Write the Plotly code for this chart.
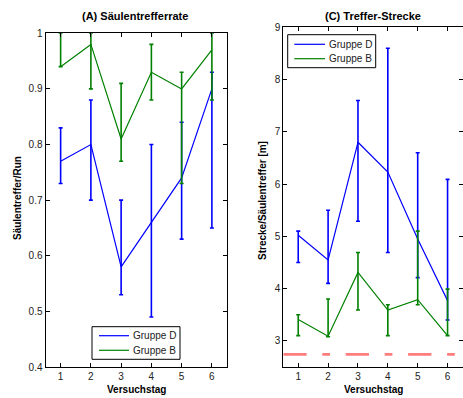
import plotly.graph_objects as go

W, H = 463, 398

days = [1, 2, 3, 4, 5, 6]

# (A) hit rate per run
rate_d = [0.77, 0.80, 0.58, 0.66, 0.74, 0.90]
rate_d_hi = [0.83, 0.88, 0.70, 0.80, 0.84, 0.93]
rate_d_lo = [0.73, 0.70, 0.53, 0.49, 0.63, 0.65]
rate_b = [0.94, 0.98, 0.81, 0.93, 0.90, 0.97]
rate_b_hi = [1.00, 1.00, 0.91, 0.98, 0.93, 1.00]
rate_b_lo = [0.94, 0.90, 0.77, 0.88, 0.73, 0.88]

# (C) distance per hit
dist_d = [5.02, 4.55, 6.80, 6.23, 4.95, 3.77]
dist_d_hi = [5.10, 5.50, 7.60, 8.60, 6.60, 6.09]
dist_d_lo = [4.50, 4.10, 5.29, 4.69, 4.21, 3.40]
dist_b = [3.41, 3.09, 4.31, 3.59, 3.79, 3.10]
dist_b_hi = [3.50, 3.80, 4.69, 3.69, 5.10, 3.99]
dist_b_lo = [3.10, 3.08, 3.59, 3.10, 3.69, 3.10]
reference_dist = 2.74

group_names = ["Gruppe D", "Gruppe B"]

BLUE = "rgb(0,0,255)"
GREEN = "rgb(0,128,0)"
FONT = "Liberation Sans, Arial, sans-serif"


def px_x(p):
    return p / W


def px_y(p):
    return 1 - p / H


def series(x, y, hi, lo, name, color, xa, ya):
    return go.Scatter(
        x=x, y=y, name=name, mode="lines",
        line=dict(color=color, width=1.2),
        error_y=dict(
            type="data", symmetric=False,
            array=[h - v for h, v in zip(hi, y)],
            arrayminus=[v - l for v, l in zip(y, lo)],
            color=color, thickness=1.6, width=2,
        ),
        xaxis=xa, yaxis=ya, showlegend=False,
    )


fig = go.Figure()
fig.add_trace(series(days, rate_d, rate_d_hi, rate_d_lo, group_names[0], BLUE, "x", "y"))
fig.add_trace(series(days, rate_b, rate_b_hi, rate_b_lo, group_names[1], GREEN, "x", "y"))
fig.add_trace(series(days, dist_d, dist_d_hi, dist_d_lo, group_names[0], BLUE, "x2", "y2"))
fig.add_trace(series(days, dist_b, dist_b_hi, dist_b_lo, group_names[1], GREEN, "x2", "y2"))
fig.add_trace(go.Scatter(
    x=[0.5, 6.5], y=[reference_dist, reference_dist], mode="lines",
    line=dict(color="rgb(255,125,125)", width=2.7, dash="23.3px,15.7px,7.7px,15.7px"),
    showlegend=False, xaxis="x2", yaxis="y2", hoverinfo="skip",
))

axis_common = dict(
    showline=True, linecolor="black", linewidth=1, mirror="allticks",
    ticks="inside", ticklen=4, tickcolor="black", tickwidth=1,
    showgrid=False, zeroline=False, automargin=False,
    tickfont=dict(family=FONT, size=10, color="#222"),
)

left_dom = [px_x(45.5), px_x(227)]
right_dom = [px_x(283.3), px_x(462.5)]

fig.update_layout(
    template="none",
    width=W, height=H,
    margin=dict(l=0, r=0, t=0, b=0, pad=0),
    paper_bgcolor="white", plot_bgcolor="white",
    font=dict(family=FONT, size=10, color="black"),
    xaxis=dict(domain=left_dom, range=[0.5, 6.5], tickvals=days, anchor="y", **axis_common),
    yaxis=dict(domain=[px_y(367), px_y(33.3)], range=[0.4, 1.0], dtick=0.1, anchor="x", **axis_common),
    xaxis2=dict(domain=right_dom, range=[0.5, 6.5], tickvals=days, anchor="y2", **axis_common),
    yaxis2=dict(domain=[px_y(367), px_y(27.3)], range=[2.5, 9], dtick=1, anchor="x2", **axis_common),
    showlegend=False,
)


# Boxed legends (one per panel), positioned in pixel coordinates of the page
def add_legend(box_x0, box_y0, box_x1, box_y1, line_x0, line_x1, row_ys, text_x):
    fig.add_shape(
        type="rect", xref="paper", yref="paper",
        x0=px_x(box_x0), x1=px_x(box_x1), y0=px_y(box_y1), y1=px_y(box_y0),
        line=dict(color="black", width=1), fillcolor="white", layer="above",
    )
    for name, color, ry in zip(group_names, [BLUE, GREEN], row_ys):
        fig.add_shape(
            type="line", xref="paper", yref="paper",
            x0=px_x(line_x0), x1=px_x(line_x1), y0=px_y(ry), y1=px_y(ry),
            line=dict(color=color, width=1.2), layer="above",
        )
        fig.add_annotation(
            text=name, x=px_x(text_x), y=px_y(ry), xref="paper", yref="paper",
            xanchor="left", yanchor="middle", showarrow=False,
            font=dict(family=FONT, size=10, color="#222"),
        )


add_legend(92, 326.7, 180, 359.3, 99, 129, [335.7, 350.3], 131)
add_legend(287.7, 34.7, 375.7, 67.7, 294.3, 325, [44.3, 58.7], 326.5)

bold = dict(family=FONT, size=11, color="black")
bold_small = dict(family=FONT, size=10, color="black")
texts = [
    ("<b>(A) Säulentrefferrate</b>", 135, 16, 0, bold),
    ("<b>(C) Treffer-Strecke</b>", 373, 16, 0, bold),
    ("<b>Versuchstag</b>", 136, 389.3, 0, bold_small),
    ("<b>Versuchstag</b>", 373, 389.3, 0, bold_small),
    ("<b>Säulentreffer/Run</b>", 17, 198, -90, bold_small),
    ("<b>Strecke/Säulentreffer [m]</b>", 262, 201, -90, bold_small),
]
for t, x, y, ang, f in texts:
    fig.add_annotation(
        text=t, x=px_x(x), y=px_y(y), xref="paper", yref="paper",
        xanchor="center", yanchor="middle", showarrow=False,
        textangle=ang, font=f,
    )

fig.write_html("out.html")
